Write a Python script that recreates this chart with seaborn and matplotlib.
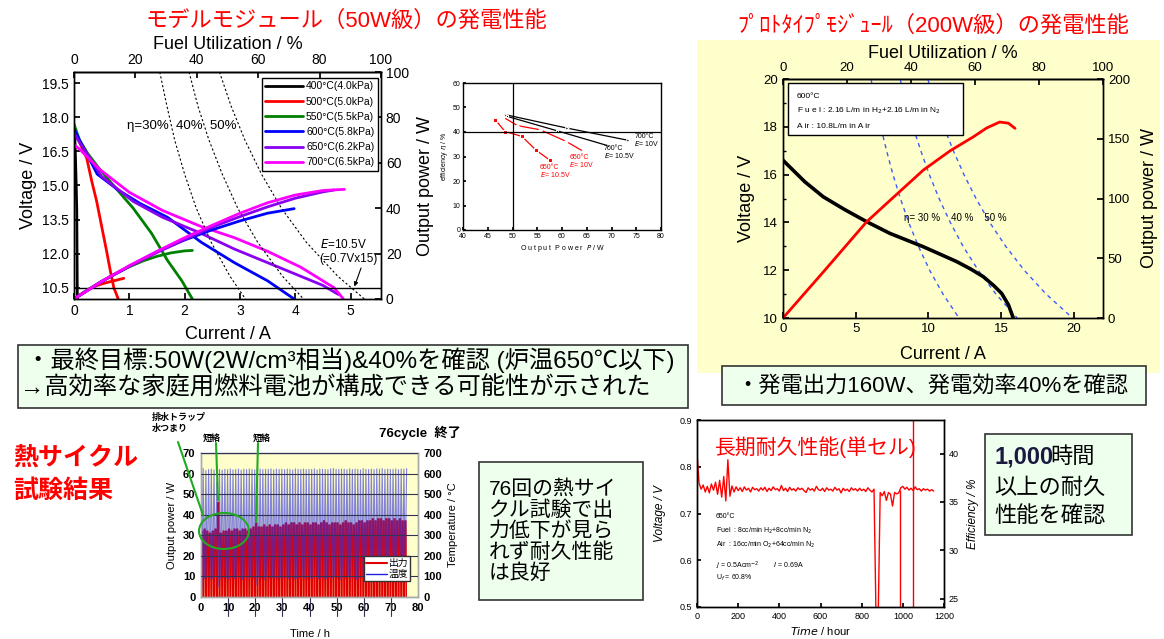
import numpy as np
import matplotlib
matplotlib.use("Agg")
import matplotlib.pyplot as plt
from matplotlib.patches import Rectangle, Ellipse
from matplotlib.lines import Line2D
import seaborn as sns

# ---------------- data ----------------
# 50W model module: current (A) vs voltage (V) and output power (W)
temp_labels = ['400°C(4.0kPa)', '500°C(5.0kPa)', '550°C(5.5kPa)',
               '600°C(5.8kPa)', '650°C(6.2kPa)', '700°C(6.5kPa)']

iv_cur_400 = [0.0, 0.02, 0.04, 0.05, 0.06]
iv_v_400 = [17.6, 16.8, 15.0, 13.9, 10.0]
pw_cur_400 = [0.0, 0.03, 0.06]
pw_400 = [0.0, 0.4, 0.6]

iv_cur_500 = [0, 0.1, 0.23, 0.32, 0.41, 0.5, 0.59, 0.66, 0.72, 0.8]
iv_v_500 = [17.6, 16.9, 16.2, 15.2, 14.3, 13.2, 12.1, 11.2, 10.5, 10.0]
pw_cur_500 = [0, 0.1, 0.2, 0.3, 0.4, 0.5, 0.6, 0.7, 0.8, 0.9]
pw_500 = [0, 1.7, 3.3, 4.7, 5.8, 6.6, 7.3, 7.9, 8.5, 9.1]

iv_cur_550 = [0, 0.1, 0.25, 0.47, 0.75, 1.07, 1.4, 1.69, 1.95, 2.14]
iv_v_550 = [17.7, 17.0, 16.4, 15.7, 14.9, 14.0, 12.9, 11.7, 10.8, 10.0]
pw_cur_550 = [0, 0.25, 0.5, 0.75, 1.0, 1.25, 1.5, 1.75, 2.0, 2.14]
pw_550 = [0, 4.1, 7.8, 11.1, 14.2, 16.8, 18.8, 20.3, 21.2, 21.4]

iv_cur_600 = [0, 0.1, 0.42, 0.8, 1.2, 1.69, 2.3, 2.9, 3.5, 3.98]
iv_v_600 = [17.5, 17.0, 15.5, 14.8, 14.2, 13.6, 12.5, 11.6, 10.8, 10.0]
pw_cur_600 = [0, 0.5, 1.0, 1.5, 2.0, 2.5, 3.0, 3.5, 3.98]
pw_600 = [0, 7.7, 14.5, 20.8, 26.0, 30.5, 34.4, 37.8, 39.8]

iv_cur_650 = [0, 0.1, 0.5, 1.07, 1.6, 2.29, 2.9, 3.5, 4.1, 4.5, 4.78]
iv_v_650 = [17.3, 16.9, 15.4, 14.3, 13.6, 12.9, 12.2, 11.6, 11.0, 10.6, 10.2]
pw_cur_650 = [0, 0.5, 1.0, 1.5, 2.0, 2.5, 3.0, 3.5, 4.0, 4.5, 4.7]
pw_650 = [0, 7.7, 14.4, 20.5, 26.2, 31.7, 36.3, 40.6, 44.4, 47.2, 48.0]

iv_cur_700 = [0, 0.1, 0.47, 1.0, 1.6, 2.29, 2.9, 3.5, 4.1, 4.7, 4.87]
iv_v_700 = [16.8, 16.6, 15.7, 14.7, 13.9, 13.2, 12.7, 12.1, 11.4, 10.5, 10.0]
pw_cur_700 = [0, 0.5, 1.0, 1.5, 2.0, 2.5, 3.0, 3.5, 4.0, 4.5, 4.89]
pw_700 = [0, 7.8, 14.7, 21.0, 27.0, 32.5, 37.8, 42.4, 45.8, 47.8, 48.3]

# iso-efficiency lines (eta = 30, 40, 50 %)
eff_v = [20, 18.5, 17, 15.5, 14, 12.5, 11, 10]
eff30_cur = [1.55, 1.68, 1.82, 2.00, 2.21, 2.48, 2.82, 3.10]
eff40_cur = [2.08, 2.24, 2.44, 2.68, 2.96, 3.32, 3.77, 4.15]
eff50_cur = [2.63, 2.84, 3.09, 3.39, 3.75, 4.20, 4.77, 5.25]
cutoff_v = 10.5

# inset: output power P vs efficiency
in_700_10_p = [48.7, 61.0, 73.4]
in_700_10_e = [47.0, 41.6, 36.6]
in_700_105_p = [48.9, 59.0, 69.3]
in_700_105_e = [46.4, 40.5, 34.4]
in_650_10_p = [48.1, 51.0, 55.6, 60.8, 64.3]
in_650_10_e = [46.1, 42.6, 40.9, 36.2, 32.1]
in_650_105_p = [46.5, 48.5, 51.9, 54.8, 57.5]
in_650_105_e = [45.0, 40.2, 38.2, 32.5, 28.6]
target_p, target_eff = 50, 40

# 200W prototype module
proto_cur = [0, 0.5, 1.5, 2.77, 4.2, 5.75, 7.35, 8.5, 9.65, 10.8, 11.94,
             12.9, 13.77, 14.5, 15.03, 15.5, 15.83]
proto_v = [16.6, 16.3, 15.7, 15.07, 14.55, 14.03, 13.54, 13.26, 12.98, 12.67,
           12.36, 12.05, 11.73, 11.35, 11.03, 10.55, 10.0]
proto_pw_cur = [0, 2.77, 5.75, 7.5, 9.65, 11.5, 13.1, 14.0, 14.9, 15.5, 15.95]
proto_pw = [0, 38.5, 80.5, 100, 123.8, 140, 151.7, 159, 164, 163, 158.7]
peff_v = [20, 19, 18, 17, 16, 15, 14, 13, 12, 11, 10]
peff30_cur = [6.05, 6.37, 6.72, 7.12, 7.56, 8.07, 8.64, 9.31, 10.08, 11.0, 12.1]
peff40_cur = [8.05, 8.47, 8.94, 9.47, 10.06, 10.73, 11.5, 12.38, 13.42, 14.64, 16.1]
peff50_cur = [9.95, 10.47, 11.06, 11.71, 12.44, 13.27, 14.21, 15.31, 16.58, 18.09, 19.9]

# thermal cycle test: per-cycle peak output power (W) and furnace temperature (°C)
power_peak = [32, 33, 32, 31, 32, 33, 46, 31, 32, 32,
              33, 32, 33, 33, 32, 33, 33, 32, 33, 34,
              36, 34, 34, 35, 34, 35, 34, 35, 35, 34,
              35, 36, 35, 36, 36, 35, 36, 35, 36, 36,
              35, 36, 36, 35, 36, 37, 36, 35, 36, 36,
              36, 35, 36, 37, 36, 36, 35, 36, 37, 37,
              36, 37, 37, 38, 37, 38, 38, 37, 38, 38,
              37, 38, 37, 38, 37, 37]
temp_peak = [625, 615, 620, 622, 618, 560, 620, 617, 621, 619,
             623, 618, 620, 622, 617, 621, 619, 623, 620, 618,
             625, 622, 619, 621, 620, 623, 618, 622, 620, 621,
             619, 622, 620, 618, 623, 621, 620, 622, 619, 621,
             620, 623, 618, 622, 621, 620, 619, 623, 625, 621,
             620, 622, 621, 619, 623, 620, 622, 621, 618, 624,
             621, 620, 622, 619, 623, 621, 625, 620, 622, 621,
             620, 623, 619, 622, 621, 624]
temp_low = [40, 90, 95, 85, 90, 100, 50, 90, 95, 90,
            85, 95, 90, 100, 90, 85, 95, 90, 100, 90,
            60, 95, 90, 85, 100, 90, 95, 90, 85, 95,
            90, 100, 90, 95, 85, 90, 95, 100, 90, 85,
            95, 90, 100, 90, 95, 85, 90, 95, 90, 100,
            90, 85, 95, 90, 100, 90, 95, 85, 90, 95,
            100, 90, 85, 95, 90, 100, 90, 95, 85, 90,
            95, 90, 100, 90, 95, 90]

# long-term single cell test: voltage every 10 h
lt_v = [0.830, 0.765, 0.752, 0.761, 0.746, 0.758, 0.744, 0.763, 0.750, 0.767,
        0.741, 0.771, 0.735, 0.779, 0.727, 0.815, 0.737, 0.759, 0.746, 0.757,
        0.749, 0.755, 0.747, 0.757, 0.750, 0.754, 0.746, 0.756, 0.751, 0.753,
        0.748, 0.755, 0.750, 0.756, 0.747, 0.754, 0.749, 0.757, 0.751, 0.753,
        0.748, 0.760, 0.749, 0.754, 0.747, 0.756, 0.750, 0.753, 0.748, 0.755,
        0.751, 0.754, 0.749, 0.745, 0.755, 0.750, 0.753, 0.748, 0.758, 0.751,
        0.749, 0.754, 0.747, 0.755, 0.750, 0.752, 0.748, 0.756, 0.750, 0.753,
        0.744, 0.754, 0.749, 0.752, 0.747, 0.755, 0.750, 0.753, 0.748, 0.754,
        0.749, 0.752, 0.747, 0.755, 0.750, 0.746, 0.752, 0.470, 0.470, 0.745,
        0.738, 0.747, 0.728, 0.745, 0.741, 0.716, 0.745, 0.742, 0.744, 0.755,
        0.758, 0.752, 0.756, 0.750, 0.754, 0.749, 0.757, 0.751, 0.753, 0.748,
        0.753, 0.750, 0.752, 0.748, 0.751, 0.748]
lt_t = np.arange(len(lt_v)) * 10
event_t = [985, 1050]
event_lo = [0.5, 0.5]
event_hi = [0.75, 0.9]

# ---------------- style ----------------
sns.set_theme(style='ticks', rc={
    'axes.edgecolor': 'black', 'text.color': 'black', 'axes.labelcolor': 'black',
    'xtick.color': 'black', 'ytick.color': 'black',
    'xtick.direction': 'in', 'ytick.direction': 'in', 'axes.linewidth': 1.0})
plt.rcParams['font.family'] = ['Liberation Sans', 'Noto Sans CJK JP', 'DejaVu Sans']
plt.rcParams['axes.unicode_minus'] = False

W, H = 1164, 639
fig = plt.figure(figsize=(W / 100, H / 100), dpi=100)
RED = '#FF0000'
BOXG = '#EEFFEE'
YEL = '#FFFFCC'


def px_rect(l, t, r, b):
    return [l / W, 1 - b / H, (r - l) / W, (b - t) / H]


def box(l, t, r, b, fc, ec='#444444', lw=1.0, z=1):
    fig.add_artist(Rectangle((l / W, 1 - b / H), (r - l) / W, (b - t) / H,
                             transform=fig.transFigure, facecolor=fc,
                             edgecolor=ec, linewidth=lw, zorder=z))


def ftext(x, y, s, **kw):
    fig.text(x / W, 1 - y / H, s, **kw)


def fline(x0, y0, x1, y1, **kw):
    fig.add_artist(Line2D([x0 / W, x1 / W], [1 - y0 / H, 1 - y1 / H],
                          transform=fig.transFigure, zorder=5, **kw))


def line(ax, x, y, **kw):
    sns.lineplot(x=x, y=y, ax=ax, sort=False, estimator=None, **kw)


# ---------------- panel 1: 50W module ----------------
colors_50w = ['#000000', '#FF0000', '#008000', '#0000FF', '#8A00F0', '#FF00FF']
iv_sets = [(iv_cur_400, iv_v_400), (iv_cur_500, iv_v_500), (iv_cur_550, iv_v_550),
           (iv_cur_600, iv_v_600), (iv_cur_650, iv_v_650), (iv_cur_700, iv_v_700)]
pw_sets = [(pw_cur_400, pw_400), (pw_cur_500, pw_500), (pw_cur_550, pw_550),
           (pw_cur_600, pw_600), (pw_cur_650, pw_650), (pw_cur_700, pw_700)]

ax1 = fig.add_axes(px_rect(74, 72, 381, 299))
ax1r = ax1.twinx()
for (c, v), col in zip(iv_sets, colors_50w):
    line(ax1, c, v, color=col, lw=2)
for (c, p), col in zip(pw_sets, colors_50w):
    line(ax1r, c, p, color=col, lw=2)
for ec in [eff30_cur, eff40_cur, eff50_cur]:
    line(ax1, ec, eff_v, color='black', lw=0.8, linestyle=(0, (2, 2)))
ax1.axhline(cutoff_v, color='black', lw=1)
ax1.set_xlim(0, 5.55)
ax1.set_ylim(10, 20)
ax1.set_xticks([0, 1, 2, 3, 4, 5])
ax1.set_yticks([10.5, 12, 13.5, 15, 16.5, 18, 19.5])
ax1r.set_ylim(0, 100)
ax1r.set_yticks([0, 20, 40, 60, 80, 100])
ax1.tick_params(labelsize=10, length=4)
ax1r.tick_params(labelsize=10, length=4)
ax1.set_xlabel('Current / A', fontsize=13, labelpad=6)
ax1.set_ylabel('Voltage / V', fontsize=13)
ax1r.set_ylabel('Output power / W', fontsize=13, labelpad=6)
top1 = ax1.secondary_xaxis('top', functions=(lambda x: x * 100 / 5.55, lambda u: u * 5.55 / 100))
top1.set_xticks([0, 20, 40, 60, 80, 100])
top1.tick_params(labelsize=10, direction='in', length=4)
top1.set_xlabel('Fuel Utilization / %', fontsize=13, labelpad=3)
ax1.text(0.96, 17.6, 'η=30%  40%  50%', fontsize=9.5, va='center')
ax1.annotate('$E$=10.5V\n(=0.7Vx15)', xy=(5.07, 10.55), xytext=(4.44, 12.1),
             fontsize=8.5, va='center', ha='left',
             arrowprops=dict(arrowstyle='-|>', color='black', lw=0.8,
                             mutation_scale=6, shrinkA=0, shrinkB=0,
                             relpos=(0.73, 0.0)))
handles = [Line2D([], [], color=c, lw=2) for c in colors_50w]
for a in (ax1, ax1r):
    if a.get_legend():
        a.get_legend().remove()
leg = ax1r.legend(handles, temp_labels, loc='upper right', bbox_to_anchor=(0.99, 0.975),
                  fontsize=7.5, frameon=True, fancybox=False, edgecolor='black',
                  handlelength=3.6, borderpad=0.35, labelspacing=0.5, handletextpad=0.3,
                  borderaxespad=0)
leg.get_frame().set_linewidth(1)
leg.get_frame().set_alpha(1)

# inset
axi = fig.add_axes(px_rect(463, 83, 661, 230))
axi.set_zorder(3)
line(axi, in_700_10_p, in_700_10_e, color='black', lw=0.9, marker='>', ms=2.5)
line(axi, in_700_105_p, in_700_105_e, color='black', lw=0.9, marker='s', ms=2)
line(axi, in_650_10_p, in_650_10_e, color='red', lw=0.9, marker='D', ms=2, mfc='white')
line(axi, in_650_105_p, in_650_105_e, color='red', lw=0.9, marker='s', ms=2.2)
axi.axvline(target_p, color='black', lw=0.9)
axi.axhline(target_eff, color='black', lw=0.9)
axi.set_xlim(40, 80)
axi.set_ylim(0, 60)
axi.set_xticks(range(40, 85, 5))
axi.set_yticks(range(0, 70, 10))
axi.tick_params(labelsize=5, length=2, pad=2)
axi.set_xlabel('O u t p u t  P o w e r  $P$ / W', fontsize=5, labelpad=2)
axi.set_ylabel('efficiency $\\eta$ / %', fontsize=5, labelpad=2)
axi.text(74.6, 36.5, '700°C\n$E$= 10V', fontsize=5, va='center', linespacing=0.9)
axi.text(68.5, 31.5, '700°C\n$E$= 10.5V', fontsize=5, va='center', linespacing=0.9)
axi.text(61.5, 28.0, '650°C\n$E$= 10V', fontsize=5, va='center', color='red', linespacing=0.9)
axi.text(55.5, 24.0, '650°C\n$E$= 10.5V', fontsize=5, va='center', color='red', linespacing=0.9)

ftext(346, 21, 'モデルモジュール（50W級）の発電性能', color=RED, fontsize=16,
      ha='center', va='center')

# ---------------- panel 2: 200W prototype ----------------
box(697, 40, 1160, 373, YEL, ec='none', z=-1)
ax2 = fig.add_axes(px_rect(783, 79, 1103, 318), facecolor=YEL)
ax2r = ax2.twinx()
for ec in [peff30_cur, peff40_cur, peff50_cur]:
    line(ax2, ec, peff_v, color='#3A5CFF', lw=1.0, linestyle=(0, (3, 3)))
line(ax2, proto_cur, proto_v, color='black', lw=2.6)
line(ax2r, proto_pw_cur, proto_pw, color=RED, lw=2.0)
ax2.set_xlim(0, 22)
ax2.set_ylim(10, 20)
ax2.set_xticks([0, 5, 10, 15, 20])
ax2.set_yticks([10, 12, 14, 16, 18, 20])
ax2.set_yticks([11, 13, 15, 17, 19], minor=True)
ax2r.set_ylim(0, 200)
ax2r.set_yticks([0, 50, 100, 150, 200])
for a in (ax2, ax2r):
    a.tick_params(labelsize=9.5, length=4)
    a.tick_params(which='minor', length=2, direction='in')
ax2.set_xlabel('Current / A', fontsize=13, labelpad=8)
ax2.set_ylabel('Voltage / V', fontsize=13, labelpad=6)
ax2r.set_ylabel('Output power / W', fontsize=13, labelpad=8)
top2 = ax2.secondary_xaxis('top', functions=(lambda x: x * 100 / 22, lambda u: u * 22 / 100))
top2.set_xticks([0, 20, 40, 60, 80, 100])
top2.tick_params(labelsize=9.5, direction='in', length=4)
top2.set_xlabel('Fuel Utilization / %', fontsize=13, labelpad=3)
ax2.text(8.3, 14.2, 'η= 30 %    40 %    50 %', fontsize=7, va='center')
box(788, 83, 963, 135, 'white', ec='black', lw=1.0, z=1)
ftext(797, 97, '600°C', fontsize=6, va='center', zorder=6)
ftext(797, 111, 'F u e l : 2.16 L/m in H$_2$+2.16 L/m in N$_2$', fontsize=6, va='center', zorder=6)
ftext(797, 127, 'A ir : 10.8L/m in A ir', fontsize=6, va='center', zorder=6)
ftext(933, 26, 'ﾌﾟﾛﾄﾀｲﾌﾟﾓｼﾞｭｰﾙ（200W級）の発電性能', color=RED, fontsize=16,
      ha='center', va='center')

# ---------------- text boxes ----------------
box(18, 345, 688, 408, BOXG, ec='#333333', lw=1.2)
ftext(26, 360, '・最終目標:50W(2W/cm³相当)&40%を確認 (炉温650℃以下)', fontsize=17.5,
      va='center', zorder=6)
ftext(20, 388, '→高効率な家庭用燃料電池が構成できる可能性が示された', fontsize=17.5,
      va='center', zorder=6)
box(722, 366, 1146, 405, BOXG, ec='#333333', lw=1.2)
ftext(736, 386, '・発電出力160W、発電効率40%を確認', fontsize=16, va='center', zorder=6)

# ---------------- panel 3: thermal cycle test ----------------
ftext(13, 458, '熱サイクル', color=RED, fontsize=18, fontweight='bold', va='center')
ftext(13, 491, '試験結果', color=RED, fontsize=18, fontweight='bold', va='center')

ax3 = fig.add_axes(px_rect(201, 453, 418, 597), facecolor=YEL)
ax3r = ax3.twinx()
cyc = np.arange(len(power_peak))
p_t = (cyc[:, None] + np.array([0.0, 0.12, 0.55, 0.68])).ravel()
p_y = np.column_stack([np.zeros(len(cyc)), power_peak, power_peak,
                       np.zeros(len(cyc))]).ravel()
t_t = (cyc[:, None] + np.array([0.3, 0.8])).ravel()
t_y = np.column_stack([temp_low, temp_peak]).ravel()
line(ax3, p_t, p_y, color='#E00000', lw=1.0)
line(ax3r, t_t, t_y, color='#3030E0', lw=0.8, alpha=0.6)
for x in range(10, 80, 10):
    ax3.plot([x, x], [-9, 0], color='#333355', lw=0.8, clip_on=False)
ax3.set_xlim(0, 80)
ax3.set_ylim(0, 70)
ax3.set_xticks(range(0, 90, 10))
ax3.set_yticks(range(0, 80, 10))
ax3r.set_ylim(0, 700)
ax3r.set_yticks(range(0, 800, 100))
ax3r.grid(True, color='#333355', lw=0.8)
ax3r.set_axisbelow(False)
for a in (ax3, ax3r):
    a.tick_params(labelsize=8, length=0, pad=4)
    for s in a.spines.values():
        s.set_color('#AAAAAA')
    plt.setp(a.get_xticklabels() + a.get_yticklabels(), fontweight='bold')
ax3.set_xlabel('Time / h', fontsize=8, labelpad=12)
ax3.set_ylabel('Output power / W', fontsize=8, labelpad=4)
ax3r.set_ylabel('Temperature / °C', fontsize=8, labelpad=4)
leg3 = ax3r.legend([Line2D([], [], color='#E00000', lw=1.5), Line2D([], [], color='#2020E0', lw=1)],
                   ['出力', '温度'], loc='lower right', bbox_to_anchor=(0.965, 0.11),
                   fontsize=7, frameon=True, fancybox=False, edgecolor='#333333',
                   handlelength=2.2, borderpad=0.2, labelspacing=0.1, handletextpad=0.2,
                   borderaxespad=0)
leg3.get_frame().set_alpha(1)
GREEN = '#22AA22'
ftext(152, 423, '排水トラップ\n水つまり', fontsize=6.5, fontweight='bold', va='center',
      linespacing=1.3)
ftext(212, 438, '短絡', fontsize=6.5, fontweight='bold', va='center', ha='center')
ftext(262, 438, '短絡', fontsize=6.5, fontweight='bold', va='center', ha='center')
fline(178, 442, 203, 515, color=GREEN, lw=1.5)
fline(216, 443, 218, 500, color=GREEN, lw=1.5)
fline(258, 443, 256, 522, color=GREEN, lw=1.5)
fig.add_artist(Ellipse((224 / W, 1 - 531 / H), 50 / W, 36 / H, transform=fig.transFigure,
                       fill=False, edgecolor=GREEN, lw=1.5, zorder=5))
ftext(420, 433, '76cycle  終了', fontsize=9.5, fontweight='bold', va='center', ha='center')

box(479, 462, 643, 600, BOXG, ec='#333333', lw=1.2)
ftext(489, 531, '76回の熱サイ\nクル試験で出\n力低下が見ら\nれず耐久性能\nは良好', fontsize=15,
      va='center', linespacing=1.08, zorder=6)

# ---------------- panel 4: long-term test ----------------
ax4 = fig.add_axes(px_rect(697, 420, 944, 607))
ax4r = ax4.twinx()
line(ax4, lt_t, lt_v, color=RED, lw=1.0)
ax4.vlines(event_t, event_lo, event_hi, color=RED, lw=1.0)
ax4.set_xlim(0, 1200)
ax4.set_ylim(0.5, 0.9)
ax4.set_xticks(range(0, 1400, 200))
ax4.set_yticks([0.5, 0.6, 0.7, 0.8, 0.9])
ax4r.set_ylim(24.15, 43.47)
ax4r.set_yticks([25, 30, 35, 40])
for a in (ax4, ax4r):
    a.tick_params(labelsize=6.5, length=3)
ax4.set_xlabel('$\\it{Time}$ / hour', fontsize=8, labelpad=3)
ax4.set_ylabel('Voltage / V', fontsize=8.5, fontstyle='italic', labelpad=10)
ax4r.set_ylabel('Efficiency / %', fontsize=8.5, fontstyle='italic', labelpad=6)
ftext(816, 447, '長期耐久性能(単セル)', color=RED, fontsize=15, ha='center', va='center')
ftext(716, 517, '650°C', fontsize=5, va='center')
ftext(716, 531, 'Fuel  : 8cc/min H$_2$+8cc/min N$_2$', fontsize=5, va='center')
ftext(716, 545, 'Air  : 16cc/min O$_2$+64cc/min N$_2$', fontsize=5, va='center')
ftext(716, 566, '$j$ = 0.5Acm$^{-2}$        $I$ = 0.69A', fontsize=5, va='center')
ftext(716, 578, 'U$_f$ = 60.8%', fontsize=5, va='center')

box(985, 434, 1132, 535, BOXG, ec='#333333', lw=1.2)
ftext(994, 457, '1,000', fontsize=17, fontweight='bold', color='#1a1a40', va='center')
ftext(1050, 457, '時間', fontsize=16, va='center')
ftext(994, 488, '以上の耐久', fontsize=16, va='center')
ftext(994, 517, '性能を確認', fontsize=16, va='center')

fig.savefig('out.png', dpi=100)
